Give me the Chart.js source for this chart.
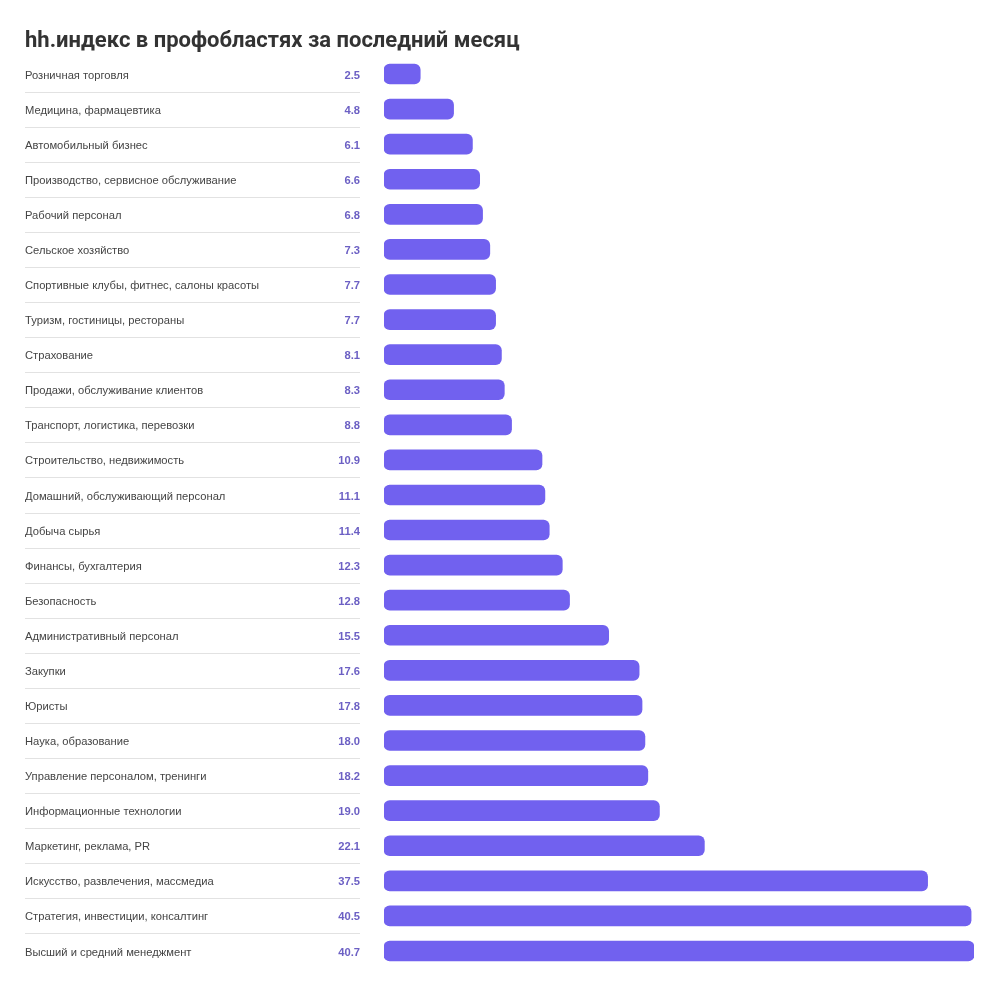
<!DOCTYPE html>
<html lang="ru">
<head>
  <meta charset="UTF-8">
  <title>hh.индекс в профобластях за последний месяц</title>
  <script src="https://cdn.jsdelivr.net/npm/chart.js"></script>
  <style>
    html, body {
      margin: 0;
      padding: 0;
      background: #fff;
    }
    .wrap {
      width: 1000px;
      height: 987px;
      position: relative;
    }
  </style>
</head>
<body>
  <div class="wrap"><canvas id="chart"></canvas></div>

  <script>
    const title = 'hh.индекс в профобластях за последний месяц';

    const categories = [
      'Розничная торговля',
      'Медицина, фармацевтика',
      'Автомобильный бизнес',
      'Производство, сервисное обслуживание',
      'Рабочий персонал',
      'Сельское хозяйство',
      'Спортивные клубы, фитнес, салоны красоты',
      'Туризм, гостиницы, рестораны',
      'Страхование',
      'Продажи, обслуживание клиентов',
      'Транспорт, логистика, перевозки',
      'Строительство, недвижимость',
      'Домашний, обслуживающий персонал',
      'Добыча сырья',
      'Финансы, бухгалтерия',
      'Безопасность',
      'Административный персонал',
      'Закупки',
      'Юристы',
      'Наука, образование',
      'Управление персоналом, тренинги',
      'Информационные технологии',
      'Маркетинг, реклама, PR',
      'Искусство, развлечения, массмедиа',
      'Стратегия, инвестиции, консалтинг',
      'Высший и средний менеджмент'
    ];

    const values = [
      2.5, 4.8, 6.1, 6.6, 6.8, 7.3, 7.7, 7.7, 8.1, 8.3, 8.8, 10.9, 11.1,
      11.4, 12.3, 12.8, 15.5, 17.6, 17.8, 18.0, 18.2, 19.0, 22.1, 37.5, 40.5, 40.7
    ];

    // подписи слева, значения и разделители рисуем сами
    const sidePlugin = {
      id: 'side',
      afterDraw(chart) {
        const ctx = chart.ctx;
        const y = chart.scales.y;
        ctx.save();

        ctx.fillStyle = '#333';
        ctx.font = 'bold 22px Roboto, sans-serif';
        ctx.textAlign = 'left';
        ctx.textBaseline = 'middle';
        ctx.fillText(title, 25, 41);

        categories.forEach((name, i) => {
          const py = y.getPixelForValue(i) + 1.5;
          ctx.font = '11.2px "Liberation Sans", Arial, sans-serif';
          ctx.fillStyle = '#444';
          ctx.textAlign = 'left';
          ctx.fillText(name, 25, py);

          ctx.font = 'bold 11.2px "Liberation Sans", Arial, sans-serif';
          ctx.fillStyle = '#6c60c4';
          ctx.textAlign = 'right';
          ctx.fillText(values[i].toFixed(1), 360, py);

          if (i < categories.length - 1) {
            const a = y.getPixelForValue(i);
            const b = y.getPixelForValue(i + 1);
            const sy = Math.round((a + b) / 2) + 0.5;
            ctx.strokeStyle = '#e2e2e2';
            ctx.lineWidth = 1;
            ctx.beginPath();
            ctx.moveTo(25, sy);
            ctx.lineTo(360, sy);
            ctx.stroke();
          }
        });
        ctx.restore();
      }
    };

    new Chart(document.getElementById('chart'), {
      type: 'bar',
      data: {
        labels: categories,
        datasets: [{
          data: values,
          backgroundColor: '#7161ef',
          borderRadius: 6,
          borderSkipped: false,
          barThickness: 20
        }]
      },
      options: {
        indexAxis: 'y',
        responsive: true,
        maintainAspectRatio: false,
        animation: false,
        layout: {
          padding: { left: 384, right: 26, top: 56.5, bottom: 18.5 }
        },
        scales: {
          x: { display: false, min: 0, max: 40.7 },
          y: { display: false }
        },
        plugins: {
          legend: { display: false },
          tooltip: { enabled: false }
        }
      },
      plugins: [sidePlugin]
    });
  </script>
</body>
</html>
